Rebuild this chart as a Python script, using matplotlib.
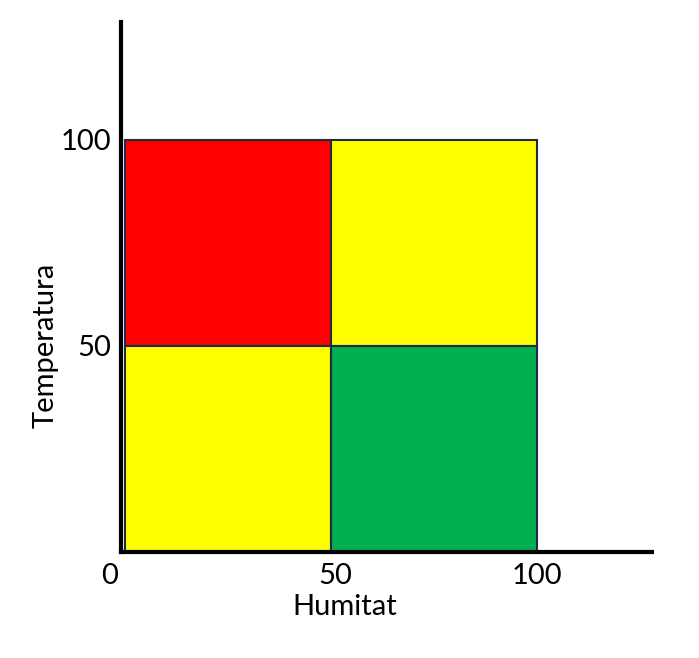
import matplotlib
matplotlib.use("Agg")
import matplotlib.pyplot as plt
import matplotlib.transforms as mtransforms
from matplotlib.patches import Rectangle

# quadrant cells: lower-left corner (humitat, temperatura), size and colour
cell_x = [0, 50, 0, 50]
cell_y = [50, 50, 0, 0]
cell_size = 50
cell_colors = ["#FF0000", "#FFFF00", "#FFFF00", "#00B050"]

x_ticks = [0, 50, 100]
y_ticks = [50, 100]

plt.rcParams['font.family'] = ['Lato', 'DejaVu Sans']

fig = plt.figure(figsize=(6.99, 6.58), dpi=100)
ax = fig.add_axes([121 / 699, 1 - 552 / 658, (652 - 121) / 699, (552 - 22) / 658])

for x, y, c in zip(cell_x, cell_y, cell_colors):
    ax.add_patch(Rectangle((x, y), cell_size, cell_size, facecolor=c,
                           edgecolor="#1F2A44", linewidth=1.5, zorder=2))

ax.set_xlim(-0.97, 127.9)
ax.set_ylim(0, 128.6)

for s in ["top", "right"]:
    ax.spines[s].set_visible(False)
for s in ["left", "bottom"]:
    ax.spines[s].set_linewidth(3)
    ax.spines[s].set_color("black")
    ax.spines[s].set_zorder(3)

ax.set_xticks(x_ticks)
ax.set_xticklabels([str(v) for v in x_ticks])
ax.set_yticks(y_ticks)
ax.set_yticklabels([str(v) for v in y_ticks])
ax.tick_params(length=0, labelsize=21, pad=7)
ax.tick_params(axis="x", pad=8)

# shift the "0" label a little to the left, as in the reference
lbl0 = ax.get_xticklabels()[0]
lbl0.set_transform(lbl0.get_transform() +
                   mtransforms.ScaledTranslation(-15 / 100, 0, fig.dpi_scale_trans))
# and the "50" a touch to the right
lbl50 = ax.get_xticklabels()[1]
lbl50.set_transform(lbl50.get_transform() +
                    mtransforms.ScaledTranslation(4 / 100, 0, fig.dpi_scale_trans))

ax.set_xlabel("Humitat", fontsize=21)
ax.set_ylabel("Temperatura", fontsize=21)
ax.xaxis.set_label_coords(0.422, -0.08)
ax.yaxis.set_label_coords(-0.118, 0.39)

fig.savefig("out.png", dpi=100)
